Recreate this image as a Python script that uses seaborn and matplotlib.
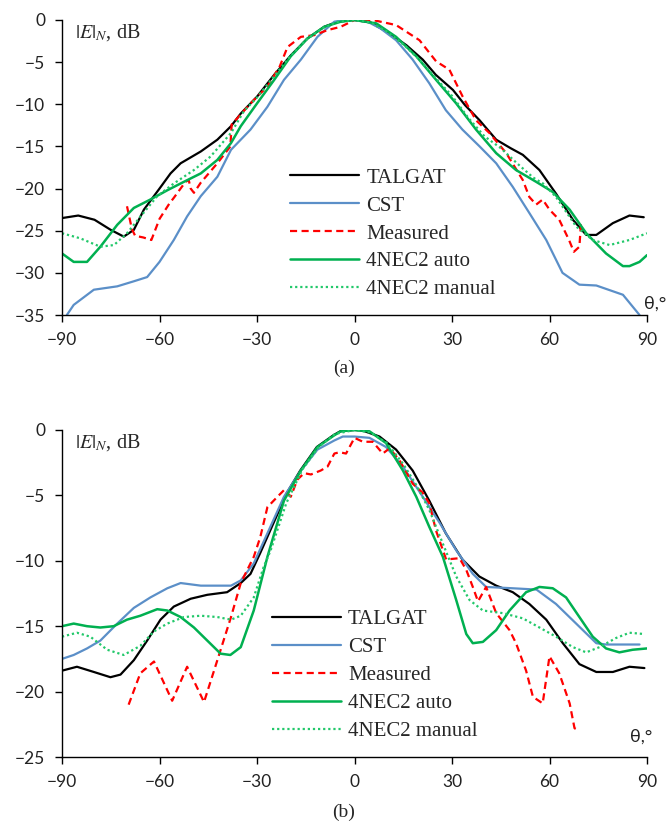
import matplotlib
matplotlib.use("Agg")
import matplotlib.pyplot as plt
import seaborn as sns
import numpy as np

# ---------------- Panel (a) data ----------------
a_talgat_t = [-90, -85, -80, -75, -71, -67.9, -64.8, -60, -56.6, -53.5, -47.3, -42.2, -38, -35, -30, -24.7, -19.6, -14.5, -9.3, -5.2, 0,
              5, 10.8, 16, 21, 25, 30.3, 34, 38.5, 43.6, 48, 51.8, 56.9, 62, 67.2, 71.3, 74.4, 79.5, 84.6, 89]
a_talgat_v = [-23.5, -23.2, -23.7, -24.9, -25.7, -24.9, -22.5, -20.0, -18.2, -17.0, -15.6, -14.2, -12.6, -11.1, -9.1, -6.5, -4.2, -2.2, -0.8, -0.2, 0.0,
              -0.3, -1.6, -3.0, -4.7, -6.5, -8.3, -10.1, -11.9, -14.2, -15.2, -16.0, -17.8, -20.6, -23.7, -25.5, -25.5, -24.1, -23.2, -23.4]

a_cst_t = [-88.5, -86.4, -80.2, -73, -67.9, -63.8, -60, -55.6, -51.5, -47.3, -42.2, -38, -32, -26.8, -21.7, -16.5, -11.4, -6.2, -3, 0,
           4, 8, 12.8, 17.9, 23, 28.1, 33.2, 38.5, 43.6, 48.7, 53.8, 59, 64, 69.2, 74.4, 82.6, 87.7]
a_cst_v = [-35.0, -33.8, -32.0, -31.6, -31.0, -30.5, -28.7, -26.1, -23.3, -20.9, -18.6, -15.4, -13.0, -10.3, -7.1, -4.7, -2.0, -0.2, 0.0, 0.0,
           -0.2, -1.0, -2.4, -4.7, -7.5, -10.7, -13.0, -15.0, -17.0, -19.8, -22.9, -26.1, -30.0, -31.4, -31.5, -32.6, -35.0]

a_meas_t = [-70, -68.5, -67.5, -65, -62.5, -60, -57, -55.6, -52, -51, -50.4, -49.4, -47.3, -42.2, -38.2, -37.8, -35, -32, -26.8, -23, -20.6,
            -16.5, -12.4, -8.3, -4.2, 0, 5.6, 12.8, 20, 25.1, 29.2, 33.3, 37.4, 41.5, 46.7, 51.8, 53.8, 55.9, 57.9, 60, 63, 66, 67.5, 69.2, 69.7]
a_meas_v = [-22.1, -24.8, -25.6, -25.8, -26.1, -23.6, -21.8, -21.1, -19.2, -19.0, -20.0, -20.5, -19.3, -17.0, -15.0, -12.4, -11.2, -9.9, -7.9, -5.5, -3.2,
            -2.0, -1.8, -1.2, -0.8, 0.0, 0.0, -0.6, -2.4, -4.9, -5.9, -9.1, -11.9, -13.4, -15.8, -19.0, -21.0, -21.9, -21.3, -22.5, -23.7, -26.1, -27.5, -26.9, -24.0]

a_auto_t = [-90, -86.4, -82.3, -78.2, -73, -67.9, -62.8, -57.6, -52.5, -47.3, -42.2, -38, -35, -30, -24.7, -19.6, -14.5, -9.3, -4.2, 0,
            6.7, 12.8, 19, 25.1, 31.3, 37.4, 43.6, 49.7, 55.9, 61, 66.2, 71.3, 77.4, 82.6, 84.6, 87.7, 90]
a_auto_v = [-27.7, -28.7, -28.7, -26.9, -24.3, -22.3, -21.3, -20.2, -19.2, -18.2, -16.6, -14.6, -12.6, -9.9, -7.1, -4.3, -2.2, -0.8, -0.2, 0.0,
            -0.4, -2.0, -4.3, -7.1, -9.9, -13.0, -15.8, -17.8, -19.2, -20.4, -22.5, -25.3, -27.7, -29.2, -29.2, -28.7, -27.9]

a_man_t = [-90, -84.4, -78.2, -74, -70, -65.8, -60.7, -55.6, -49.4, -44.3, -38, -34, -30, -25, -20, -15, -10, -5, 0,
           5, 10, 15, 20, 25, 30, 35, 40, 45, 50, 55, 58, 62, 68.2, 73.3, 78.5, 84.6, 90]
a_man_v = [-25.3, -25.9, -26.9, -26.7, -25.3, -23.3, -20.9, -19.4, -17.8, -16.2, -13.4, -10.8, -9.2, -6.8, -4.4, -2.4, -1.0, -0.2, 0.0,
           -0.3, -1.4, -2.9, -4.7, -6.9, -9.0, -11.6, -13.8, -15.2, -17.0, -18.7, -19.4, -21.0, -24.5, -26.1, -26.7, -26.1, -25.3]

# ---------------- Panel (b) data ----------------
b_talgat_t = [-90, -85.4, -80.2, -75.1, -72, -67.9, -63.8, -59.7, -55.6, -50.4, -45.3, -39.2, -35, -32, -29, -24.9, -20.8, -16.7, -11.6, -6.5, -4.4, 0,
              2.6, 7.7, 12.8, 17.9, 23, 28.1, 33.2, 38.4, 43.6, 48.7, 53.8, 59, 64.1, 69.2, 74.4, 79.5, 84.6, 89.2]
b_talgat_v = [-18.4, -18.1, -18.5, -18.9, -18.7, -17.6, -16.1, -14.5, -13.5, -12.9, -12.6, -12.4, -11.7, -11.0, -9.4, -7.1, -4.8, -3.1, -1.3, -0.4, -0.1, 0.0,
              -0.05, -0.5, -1.5, -3.1, -5.4, -7.9, -9.9, -11.2, -11.9, -12.4, -13.3, -14.5, -16.3, -17.9, -18.5, -18.5, -18.1, -18.2]

b_cst_t = [-90, -86.4, -82.3, -78.2, -73, -67.9, -62.8, -57.6, -53.5, -47.3, -42.2, -38, -35, -31, -26.8, -21.7, -16.5, -11.4, -6.2, -3.6, 0,
           4.6, 9.7, 14.9, 21, 26.2, 31.3, 36.4, 40.5, 48.7, 56, 62, 68.2, 74.4, 77.4, 87.7]
b_cst_v = [-17.5, -17.2, -16.7, -16.1, -14.8, -13.6, -12.8, -12.1, -11.7, -11.9, -11.9, -11.9, -11.5, -10.2, -7.9, -5.1, -3.1, -1.5, -0.8, -0.5, -0.5,
           -0.6, -1.3, -2.8, -5.1, -7.1, -9.2, -11.0, -12.0, -12.1, -12.2, -13.3, -14.8, -16.3, -16.4, -16.4]

b_meas_t = [-69.5, -65.9, -61.7, -56.1, -51.5, -46.3, -42.2, -38, -35, -31, -29, -26.8, -23.7, -21.7, -19.6, -17.6, -15.5, -13.4, -10.4, -8.3, -6.2,
            -4.6, -2.6, 0, 2.6, 5.6, 8.7, 10.8, 13.8, 17.9, 21, 23, 25.1, 28.2, 32.3, 34.4, 36.4, 38, 40.5, 43.6, 47.7, 49.7, 52.8, 54.9, 57.9,
            60, 63, 66.2, 67.7, 69.2]
b_meas_v = [-21.0, -18.6, -17.7, -20.7, -18.1, -20.8, -17.6, -14.3, -11.7, -9.7, -8.2, -5.9, -5.1, -4.6, -5.1, -3.8, -3.3, -3.4, -3.1, -2.8, -1.8,
            -1.7, -1.8, -0.6, -0.9, -0.9, -1.8, -1.4, -2.3, -4.1, -4.8, -5.6, -7.7, -9.9, -9.8, -10.7, -12.0, -13.1, -12.0, -14.0, -15.3, -16.3, -18.4, -20.4, -20.9,
            -17.3, -18.6, -20.9, -22.8, -23.0]

b_auto_t = [-90, -86.4, -82.3, -78.2, -74.1, -70, -65.9, -60.7, -57.6, -53.5, -49.4, -45.3, -41.2, -38.2, -35, -31, -26.8, -21.7, -16.5, -11.4, -6.2, -4.2, 0,
            4.6, 9.7, 14.9, 19, 23, 27.2, 31.3, 34.4, 36.4, 39.5, 43.6, 47.7, 52.8, 56.9, 61, 65.1, 69.2, 73.3, 77.4, 81.5, 85.6, 90]
b_auto_v = [-15.0, -14.8, -15.0, -15.1, -15.0, -14.5, -14.2, -13.7, -13.8, -14.3, -15.1, -16.1, -17.1, -17.2, -16.6, -13.8, -9.7, -5.4, -3.1, -1.3, -0.4, -0.1, 0.0,
            -0.1, -1.0, -3.1, -5.1, -7.4, -9.7, -13.0, -15.6, -16.3, -16.2, -15.3, -13.8, -12.4, -12.0, -12.1, -12.8, -14.3, -15.8, -16.7, -17.0, -16.8, -16.7]

b_man_t = [-90, -85.4, -81.3, -76.1, -71, -65.9, -61.7, -57.6, -52.5, -47.3, -42.2, -38, -35, -31, -28, -25.8, -21, -16, -11, -6, 0,
           5, 10, 15, 19, 23, 27.2, 31.3, 35.4, 39.5, 45.6, 51.8, 56.9, 62, 67.2, 71.3, 75.4, 80.5, 84.6, 89.2]
b_man_v = [-15.8, -15.5, -15.8, -16.8, -17.2, -16.5, -15.4, -14.8, -14.3, -14.2, -14.3, -14.5, -14.2, -12.8, -10.5, -9.2, -5.6, -3.0, -1.3, -0.3, 0.0,
           -0.2, -1.0, -2.6, -4.2, -6.1, -8.7, -11.2, -13.0, -13.8, -14.0, -14.4, -15.1, -15.8, -16.6, -17.0, -16.6, -15.9, -15.5, -15.6]

labels = ["TALGAT", "CST", "Measured", "4NEC2 auto", "4NEC2 manual"]
x_ticks = [-90, -60, -30, 0, 30, 60, 90]
a_y_ticks = [0, -5, -10, -15, -20, -25, -30, -35]
b_y_ticks = [0, -5, -10, -15, -20, -25]

sns.set_style("ticks")
plt.rcParams["mathtext.fontset"] = "stix"
plt.rcParams["font.family"] = ["Liberation Serif", "DejaVu Serif"]

W, H = 667, 822
fig = plt.figure(figsize=(W / 100, H / 100), dpi=100)
ax1 = fig.add_axes([62 / W, 1 - 315 / H, 585 / W, 295 / H])
ax2 = fig.add_axes([62 / W, 1 - 757 / H, 585 / W, 327 / H])

styles = [
    dict(color="black", linestyle="-", linewidth=1.6),
    dict(color="#5B8FC8", linestyle="-", linewidth=1.6),
    dict(color="#FF0000", linestyle=(0, (3.2, 2.0)), linewidth=1.6),
    dict(color="#00B050", linestyle="-", linewidth=1.8),
    dict(color="#22C86A", linestyle=(0, (1, 1.3)), linewidth=1.6),
]

panels = [
    (ax1, [(a_talgat_t, a_talgat_v), (a_cst_t, a_cst_v), (a_meas_t, a_meas_v), (a_auto_t, a_auto_v), (a_man_t, a_man_v)],
     (-35, 0), a_y_ticks, (0.390, 0.498), (655, 304), (344, 368), "(a)"),
    (ax2, [(b_talgat_t, b_talgat_v), (b_cst_t, b_cst_v), (b_meas_t, b_meas_v), (b_auto_t, b_auto_v), (b_man_t, b_man_v)],
     (-25, 0), b_y_ticks, (0.359, 0.450), (641, 737), (344, 812), "(b)"),
]

for ax, series, ylim, yticks, leg_anchor, th_pos, cap_pos, cap in panels:
    for (t, v), lab, st in zip(series, labels, styles):
        sns.lineplot(x=t, y=v, ax=ax, label=lab, sort=False, estimator=None, **st)
    ax.set_xlim(-90, 90)
    ax.set_ylim(*ylim)
    ax.set_xticks(x_ticks)
    ax.set_yticks(yticks)
    ax.set_xlabel("")
    ax.set_ylabel("")
    for s in ["top", "right"]:
        ax.spines[s].set_visible(False)
    for s in ["left", "bottom"]:
        ax.spines[s].set_color("black")
        ax.spines[s].set_linewidth(1.0)
    ax.tick_params(axis="both", direction="out", length=5, width=1.0, color="black",
                   labelsize=12.5, labelcolor="#222222")
    ax.tick_params(axis="x", pad=7.5)
    ax.tick_params(axis="y", pad=7)
    for lbl in ax.get_xticklabels() + ax.get_yticklabels():
        lbl.set_family(["Lato", "DejaVu Sans"])
    ax.legend(loc="upper left", bbox_to_anchor=leg_anchor, bbox_transform=ax.transAxes,
              frameon=False, fontsize=15, handlelength=3.3, handletextpad=0.35,
              labelspacing=0.4, borderpad=0, borderaxespad=0)
    fig.text(th_pos[0] / W, 1 - th_pos[1] / H, "θ,°", ha="center", va="center",
             fontsize=13, family=["Lato", "DejaVu Sans"], color="#222222")
    fig.text(cap_pos[0] / W, 1 - cap_pos[1] / H, cap, ha="center", va="center", fontsize=14)

fig.text(75 / W, 1 - 33 / H, r"$|E|_{N}$, dB", ha="left", va="center", fontsize=14.5)
fig.text(75 / W, 1 - 443 / H, r"$|E|_{N}$, dB", ha="left", va="center", fontsize=14.5)

fig.savefig("out.png", dpi=100)
